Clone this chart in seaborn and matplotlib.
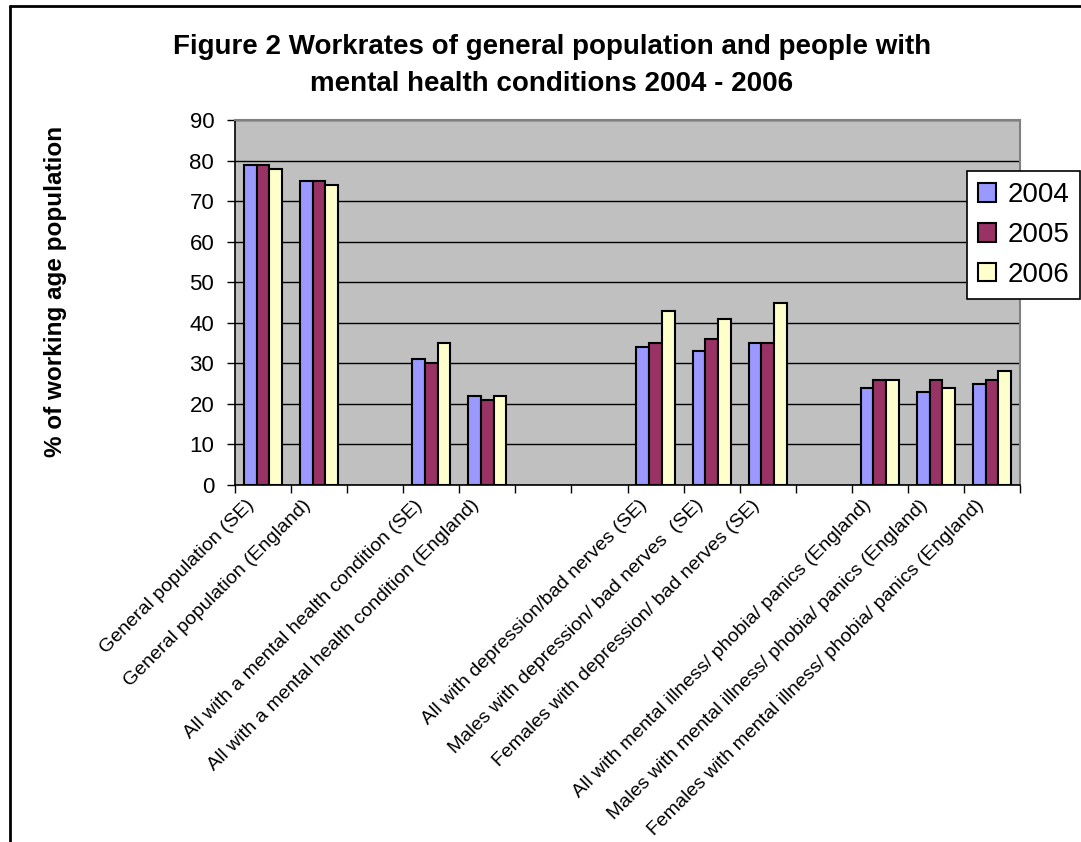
import matplotlib
matplotlib.use("Agg")
import matplotlib.pyplot as plt
from matplotlib.lines import Line2D
from matplotlib.patches import Patch
from matplotlib.ticker import FixedLocator, MultipleLocator
from matplotlib.transforms import ScaledTranslation
import numpy as np
import pandas as pd
import seaborn as sns

# Categories (blank slots separate the groups on the axis)
categories = [
    "General population (SE)",
    "General population (England)",
    " ",
    "All with a mental health condition (SE)",
    "All with a mental health condition (England)",
    "  ",
    "   ",
    "All with depression/bad nerves (SE)",
    "Males with depression/ bad nerves  (SE)",
    "Females with depression/ bad nerves (SE)",
    "    ",
    "All with mental illness/ phobia/ panics (England)",
    "Males with mental illness/ phobia/ panics (England)",
    "Females with mental illness/ phobia/ panics (England)",
]
years = ["2004", "2005", "2006"]

# Work rates, % of working age population (None = empty slot)
rate_2004 = [79, 75, None, 31, 22, None, None, 34, 33, 35, None, 24, 23, 25]
rate_2005 = [79, 75, None, 30, 21, None, None, 35, 36, 35, None, 26, 26, 26]
rate_2006 = [78, 74, None, 35, 22, None, None, 43, 41, 45, None, 26, 24, 28]

colors = ["#9999FF", "#993366", "#FFFFCC"]

rows = []
for year, vals in zip(years, [rate_2004, rate_2005, rate_2006]):
    for cat, v in zip(categories, vals):
        if v is not None:
            rows.append({"category": cat, "year": year, "rate": v})
df = pd.DataFrame(rows)

sns.set_theme(style="white")
plt.rcParams["font.family"] = ["Liberation Sans", "DejaVu Sans"]
plt.rcParams.update({
    "text.color": "black",
    "axes.labelcolor": "black",
    "xtick.color": "black",
    "ytick.color": "black",
})

W, H = 1081, 842
fig = plt.figure(figsize=(W / 100, H / 100), dpi=100)
ax = fig.add_axes([235 / W, 1 - 485 / H, (1020 - 235) / W, (485 - 120) / H])
ax.set_facecolor("#C0C0C0")

sns.barplot(
    data=df, x="category", y="rate", hue="year", order=categories,
    hue_order=years, palette=colors, width=0.68, dodge=True,
    edgecolor="black", linewidth=1.5, saturation=1, errorbar=None,
    legend=False, ax=ax, zorder=3,
)

ax.set_xlim(-0.5, len(categories) - 0.5)
ax.set_ylim(0, 90)
ax.yaxis.set_major_locator(MultipleLocator(10))
ax.grid(axis="y", color="black", linewidth=1.0, zorder=0)
ax.set_axisbelow(True)

# Spines: black axes, grey plot-area border
for side in ["left", "bottom"]:
    ax.spines[side].set_color("black")
    ax.spines[side].set_linewidth(1.2)
for side in ["top", "right"]:
    ax.spines[side].set_color("#808080")
    ax.spines[side].set_linewidth(1.5)

# Y ticks and axis title
ax.tick_params(axis="y", direction="out", length=6, width=1, color="black",
               labelsize=16, pad=9, left=True)
ax.set_ylabel("% of working age population", fontsize=17.5, fontweight="bold")
ax.yaxis.set_label_coords((56 - 235) / 785, 0.53)
ax.yaxis.label.set_verticalalignment("center")

# X ticks: marks at category boundaries, labels at centres
ax.set_xticks(range(len(categories)))
ax.xaxis.set_minor_locator(FixedLocator(np.arange(-0.5, len(categories), 1.0)))
ax.tick_params(axis="x", which="major", length=0, pad=12, bottom=True)
ax.tick_params(axis="x", which="minor", direction="out", length=6, width=1,
               color="black", bottom=True)
ax.set_xticklabels(categories, rotation=45, ha="right",
                   rotation_mode="anchor", fontsize=14)
ax.set_xlabel("")

# Slant labels sit a little left of their category centre
shift = ScaledTranslation(-17 / 100, 5 / 100, fig.dpi_scale_trans)
for lbl in ax.get_xticklabels():
    lbl.set_transform(lbl.get_transform() + shift)

# Title
fig.text(552 / W, 1 - 47 / H, "Figure 2 Workrates of general population and people with",
         ha="center", va="center", fontsize=20, fontweight="bold")
fig.text(552 / W, 1 - 84 / H, "mental health conditions 2004 - 2006",
         ha="center", va="center", fontsize=20, fontweight="bold")

# Legend
handles = [Patch(facecolor=c, edgecolor="black", linewidth=1.5) for c in colors]
leg = fig.legend(handles, years, loc="upper left",
                 bbox_to_anchor=(967 / W, 1 - 171 / H), fontsize=20,
                 frameon=True, fancybox=False, edgecolor="black",
                 framealpha=1, handlelength=0.65, handleheight=0.65,
                 handletextpad=0.4, labelspacing=0.5, borderpad=0.4,
                 borderaxespad=0)
leg.get_frame().set_linewidth(1.2)

# Outer chart frame (left and top edges)
fig.add_artist(Line2D([10 / W, 10 / W], [0, 1 - 6 / H], color="black",
                      linewidth=2, transform=fig.transFigure))
fig.add_artist(Line2D([10 / W, 1], [1 - 6 / H, 1 - 6 / H], color="black",
                      linewidth=2, transform=fig.transFigure))

fig.savefig("out.png", dpi=100)
